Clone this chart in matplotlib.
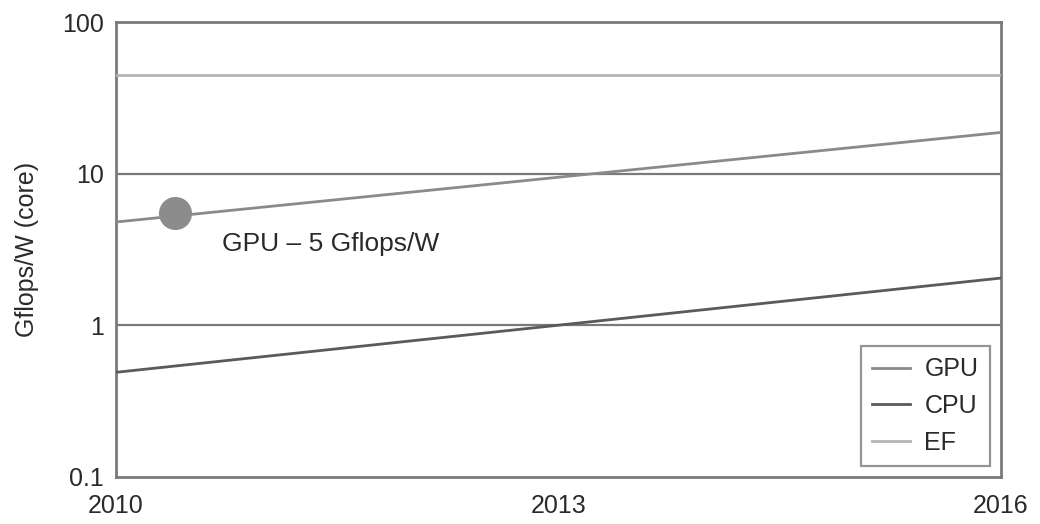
import matplotlib.pyplot as plt

plt.rcParams["font.family"] = ["Liberation Sans", "DejaVu Sans"]

# Efficiency trends (Gflops/W per core), 2010 -> 2016
years = [2010, 2016]
gpu = [4.8, 18.7]
cpu = [0.49, 2.05]
ef = [45, 45]

# 2010 GPU data point
point_year = 2010.4
point_value = 5.5
point_label = "GPU \u2013 5 Gflops/W"

x_ticks = [2010, 2013, 2016]
y_ticks = [0.1, 1, 10, 100]
y_tick_labels = ["0.1", "1", "10", "100"]

txt = "#2a2a2a"

fig = plt.figure(figsize=(10.4, 5.24), dpi=100)
ax = fig.add_axes([116 / 1040, 1 - 477 / 524, 885 / 1040, 455 / 524])

ax.set_yscale("log")
ax.set_xlim(2010, 2016)
ax.set_ylim(0.1, 100)

for y in [1, 10]:
    ax.axhline(y, color="#7a7a7a", lw=1.6, zorder=1)

ax.plot(years, gpu, color="#8a8a8a", lw=2, label="GPU", zorder=3)
ax.plot(years, cpu, color="#5a5a5a", lw=2, label="CPU", zorder=3)
ax.plot(years, ef, color="#b4b4b4", lw=2, label="EF", zorder=3)

ax.scatter([point_year], [point_value], s=520, color="#8c8c8c", zorder=4)
ax.text(2010.72, 3.45, point_label, fontsize=19, color=txt,
        va="center", ha="left")

ax.set_xticks(x_ticks)
ax.set_xticklabels([str(t) for t in x_ticks], fontsize=18)
ax.set_yticks(y_ticks)
ax.set_yticklabels(y_tick_labels, fontsize=18)
ax.minorticks_off()
ax.tick_params(length=0, pad=9, colors=txt)
ax.tick_params(axis="x", pad=12)
ax.set_ylabel("Gflops/W (core)", fontsize=18, color=txt, labelpad=16)

for s in ax.spines.values():
    s.set_color("#7a7a7a")
    s.set_linewidth(2)

leg = ax.legend(loc="lower right", fontsize=18, frameon=True, fancybox=False,
                handlelength=1.5, handletextpad=0.6, labelspacing=0.5,
                borderaxespad=0.45, borderpad=0.45, labelcolor=txt)
leg.get_frame().set_edgecolor("#7a7a7a")
leg.get_frame().set_linewidth(1.6)

fig.savefig("out.png", dpi=100)
